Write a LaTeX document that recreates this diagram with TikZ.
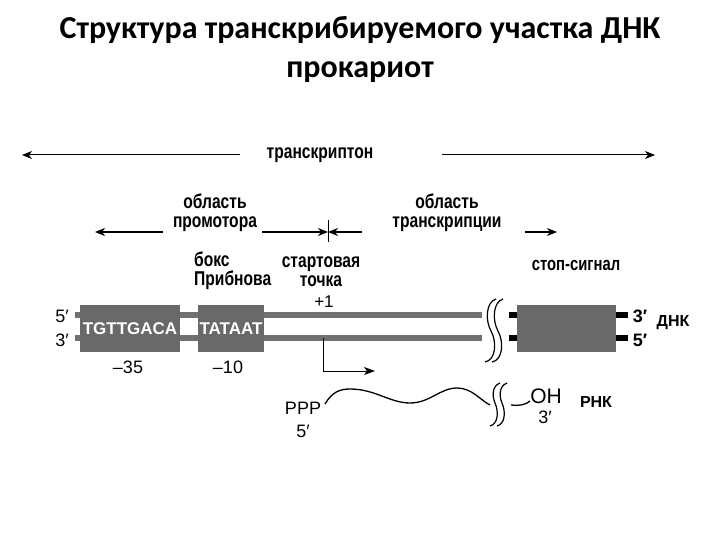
\documentclass[tikz,border=0pt]{standalone}
\usepackage{fontspec}
\setmainfont{Liberation Sans}
\newfontfamily\titlefont{Carlito}
\newfontfamily\narrowfont[FakeStretch=0.78]{Liberation Sans}
\usetikzlibrary{arrows.meta,positioning,calc}

\definecolor{boxgray}{RGB}{105,105,105}
\definecolor{strandgray}{RGB}{112,112,112}

\tikzset{
    lbl/.style={font=\narrowfont\bfseries\fontsize{20}{19}\selectfont, align=center, inner sep=0pt},
    num/.style={font=\fontsize{18}{20}\selectfont, inner sep=0pt},
    seqbox/.style={fill=boxgray, minimum height=47pt, text=white, inner sep=0pt,
        font=\bfseries\fontsize{17}{18}\selectfont},
    strand/.style={draw=strandgray, line width=6pt},
    stub/.style={draw=black, line width=6pt},
    span/.style={-{Stealth[length=10pt,width=8pt,inset=3pt]}, line width=1pt},
    brk/.style={line width=1.2pt}
}

\begin{document}
\begin{tikzpicture}[x=1pt,y=-1pt]
\useasboundingbox (0,0) rectangle (720,540);

% title
\node[font=\titlefont\bfseries\fontsize{32}{39}\selectfont, align=center] (title) at (360,49)
    {Структура транскрибируемого участка ДНК\\прокариот};

% transcripton
\node[lbl] (tron) at (320,155) {транскриптон};
\draw[span] (240,155) -- (22,155);
\draw[span] (442,155) -- (655,155);

% promoter / transcription regions
\node[lbl] (prom) at (215,213) {область\\промотора};
\node[lbl] (trans) at (447,213) {область\\транскрипции};
\coordinate (mid) at (328,232);
\draw[span] (163,232) -- (95,232);
\draw[span] (262,232) -- (mid);
\draw[span] (362,232) -- (mid);
\draw[span] (525,232) -- (557,232);
\draw[line width=0.6pt] ($(mid)+(0,-12)$) -- ($(mid)+(0,10)$);

% labels over the strands
\node[lbl, align=left, anchor=west] (pribnow) at (194,271) {бокс\\Прибнова};
\node[lbl] (start) at (321,272) {стартовая\\точка};
\node[num, font=\fontsize{17}{19}\selectfont] (plus) at (324,302) {+1};
\node[lbl, font=\narrowfont\bfseries\fontsize{19}{20}\selectfont] (stop) at (576,265) {стоп-сигнал};

% DNA strands
\coordinate (top0) at (75,315);
\coordinate (bot0) at (75,338);
\draw[strand] (top0) -- (482,315);
\draw[strand] (bot0) -- (482,338);

\node[seqbox, minimum width=100pt] (m35) at (130,328.5) {TGTTGACA};
\node[seqbox, minimum width=66pt] (m10) at (231,328.5) {TATAAT};
\node[seqbox, minimum width=99pt] (term) at (566.5,328.5) {};

\draw[stub] (509,315) -- (term.west |- 0,315);
\draw[stub] (509,338) -- (term.west |- 0,338);
\draw[stub] (term.east |- 0,315) -- (628,315);
\draw[stub] (term.east |- 0,338) -- (628,338);

\node[num] (l5) at (62,316) {5′};
\node[num] (l3) at (62,340) {3′};
\node[num, font=\bfseries\fontsize{18}{20}\selectfont] (r3) at (640,316) {3′};
\node[num, font=\bfseries\fontsize{18}{20}\selectfont] (r5) at (640,340) {5′};
\node[lbl, font=\bfseries\fontsize{16}{17}\selectfont] (dna) at (673,323) {ДНК};

\node[num] (n35) at (128,367) {–35};
\node[num] (n10) at (228,367) {–10};

% breaks in DNA
\foreach \dx in {0,7} {
  \draw[brk] (496+\dx,299) .. controls (486+\dx,302) and (485+\dx,320) .. (491+\dx,331)
             .. controls (497+\dx,342) and (496+\dx,360) .. (485+\dx,362);
}

% start of transcription
\coordinate (tss) at (323,338);
\draw[line width=0.8pt, -{Stealth[length=11pt,width=8pt,inset=3pt]}] (tss) |- (375,371);

% RNA
\node[num] (ppp) at (303,408) {PPP};
\node[num] (p5) at (303,431) {5′};
\draw[line width=1.3pt] (325,404)
    .. controls (332,392) and (340,389) .. (350,389)
    .. controls (375,389) and (390,403) .. (410,403)
    .. controls (430,403) and (440,388) .. (457,388)
    .. controls (472,388) and (480,400) .. (490,405);
\foreach \dx in {0,7} {
  \draw[brk] (500+\dx,383) .. controls (492+\dx,386) and (492+\dx,396) .. (495+\dx,403)
             .. controls (499+\dx,412) and (498+\dx,424) .. (490+\dx,426);
}
\node[num, font=\fontsize{21}{22}\selectfont] (oh) at (546,396) {OH};
\node[num] (r3p) at (545,417) {3′};
\draw[line width=1.3pt] (511,405) .. controls (518,406) and (526,405) .. (530,401);
\node[lbl, font=\bfseries\fontsize{16}{17}\selectfont] (rna) at (596,402) {РНК};
\end{tikzpicture}
\end{document}
